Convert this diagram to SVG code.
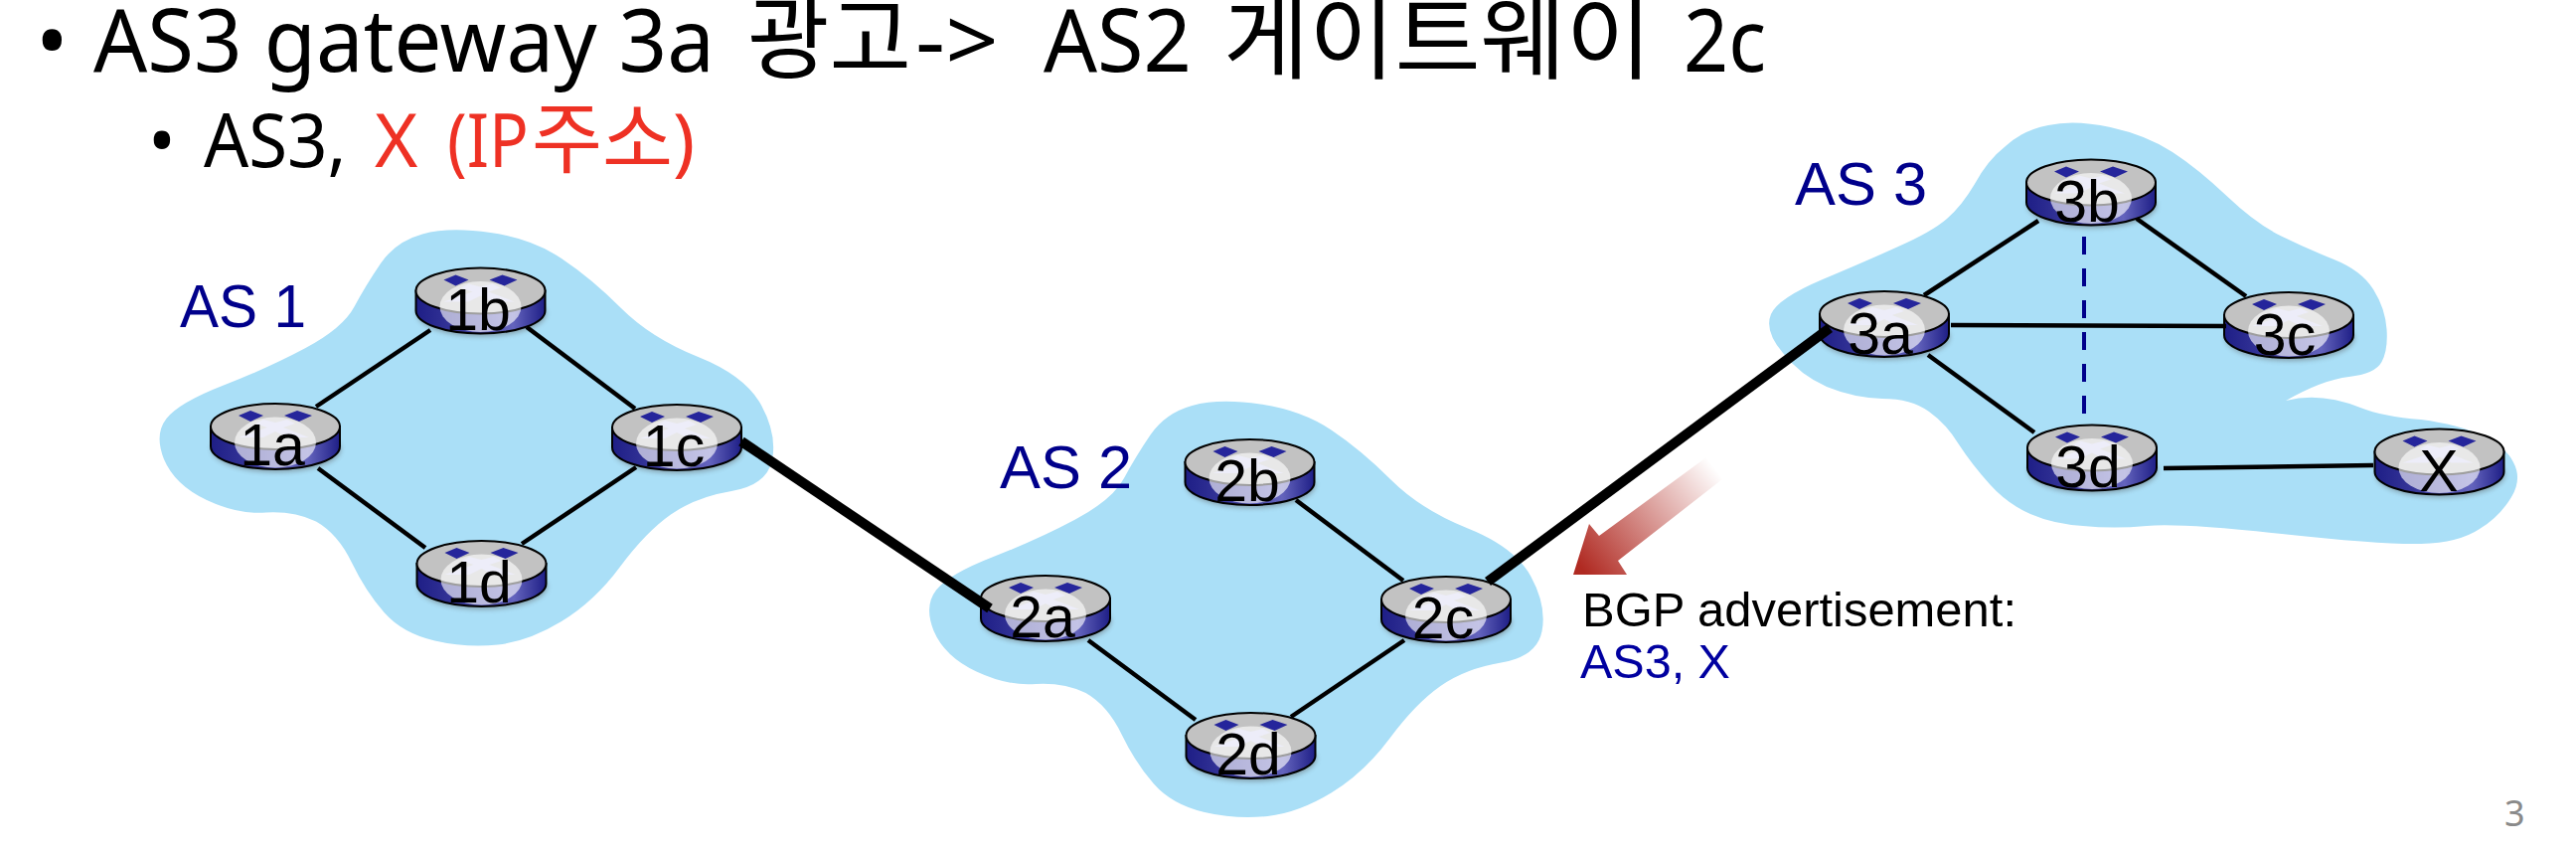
<svg xmlns="http://www.w3.org/2000/svg" width="2592" height="860" viewBox="0 0 2592 860">
<style>
text{font-family:"Liberation Sans",Arial,sans-serif}
.head{font-family:"Noto Sans","Noto Sans CJK KR",sans-serif;fill:#000}
.ko{font-family:"Noto Sans CJK KR",sans-serif}
.red{fill:#ee3124}
.cloud{fill:#aadff7}
.as{font-size:61px;fill:#00008b}
.lbl{font-size:59px;fill:#000;text-anchor:middle}
.ln{stroke:#000;stroke-width:4.5;fill:none}
.thick{stroke:#000;stroke-width:10;fill:none}
</style>
<defs>
<linearGradient id="bodyG" x1="0" x2="1" y1="0" y2="0"><stop offset="0" stop-color="#1e1e86"/><stop offset=".35" stop-color="#3a3a9c"/><stop offset=".75" stop-color="#6464bd"/><stop offset="1" stop-color="#1e1e86"/></linearGradient>
<linearGradient id="arrowG" gradientUnits="userSpaceOnUse" x1="1592" y1="572" x2="1725" y2="470"><stop offset="0" stop-color="#b02a22"/><stop offset="1" stop-color="#b02a22" stop-opacity="0"/></linearGradient>
<filter id="blur" x="-20%" y="-20%" width="140%" height="140%"><feGaussianBlur stdDeviation="2.5"/></filter>
<path id="cloud1" class="cloud" d="M425,235.5 Q452,228 493.5,234 Q535,240 565,260 Q595,280 625,310 Q655,340 702.5,359 Q750,378 766,407.5 Q782,437 777,462.5 Q772,488 736,494 Q700,500 675,517.5 Q650,535 624,570 Q598,605 565,625 Q532,645 501,648.5 Q470,652 437.5,644.5 Q405,637 386.5,616 Q368,595 354,566 Q340,537 318,524.5 Q296,514 268,515.5 Q240,518 208,503 Q176,488 165,462 Q155,437 167.5,421 Q180,405 225,387.5 Q270,370 307.5,350 Q345,330 356.5,308.5 Q368,287 383,265 Q398,243 425,235.5 Z"/>
<g id="router">
<ellipse cx="1" cy="13" rx="65" ry="23" fill="#555" opacity=".45" filter="url(#blur)"/>
<path d="M-65,-10 V10 A65,23 0 0 0 65,10 V-10 Z" fill="url(#bodyG)" stroke="#000" stroke-width="2"/>
<ellipse cx="0" cy="-10" rx="65" ry="23" fill="#c2c2c2" stroke="#000" stroke-width="2"/>
<path d="M-37,-21 L-25,-26 L-12,-21 L-25,-15 Z M9,-21 L22,-26 L37,-21 L24,-15 Z" fill="#25259b"/>
<path d="M-12,-17 L0,-14 L12,-17 L20,-13 L8,-9 L34,1 L12,1 L0,-5 L-12,1 L-37,1 L-8,-9 L-20,-13 Z" fill="#cfcfee"/>
<ellipse cx="0" cy="6" rx="41" ry="25.5" fill="#fff" opacity=".62"/>
</g>
</defs>

<text class="head" x="36" y="72" font-size="87">•</text>
<text class="head" y="72" font-size="87"><tspan x="94" textLength="647" lengthAdjust="spacingAndGlyphs">AS3 gateway 3a </tspan><tspan x="752" class="ko" font-size="92" textLength="165" lengthAdjust="spacingAndGlyphs">광고</tspan><tspan x="921" textLength="108" lengthAdjust="spacingAndGlyphs">-&gt; </tspan><tspan x="1050" textLength="171" lengthAdjust="spacingAndGlyphs">AS2 </tspan><tspan x="1231" class="ko" font-size="92" textLength="452" lengthAdjust="spacingAndGlyphs">게이트웨이 </tspan><tspan x="1694" textLength="83" lengthAdjust="spacingAndGlyphs">2c</tspan></text>
<text class="head" x="149" y="168" font-size="74">•</text>
<text class="head" y="168" font-size="74"><tspan x="205" textLength="162" lengthAdjust="spacingAndGlyphs">AS3, </tspan><tspan x="377" class="red">X </tspan><tspan x="450" class="red" textLength="82" lengthAdjust="spacingAndGlyphs">(IP</tspan><tspan x="535" class="red ko" font-size="78" textLength="142" lengthAdjust="spacingAndGlyphs">주소</tspan><tspan x="677" class="red">)</tspan></text>

<g id="clouds">
<use href="#cloud1"/>
<use href="#cloud1" transform="translate(774.5,172.5)"/>
<path class="cloud" d="M2123.5,128 Q2160,136 2186,153 Q2212,170 2241,197.5 Q2270,225 2295.5,237.5 Q2321,250 2348.5,261 Q2376,272 2388,291 Q2400,310 2401.5,331 Q2403,352 2396.5,364 Q2390,376 2363.5,379 Q2337,382 2300,403 Q2335,394 2375,410 Q2398,419 2436,422 Q2474,427 2497,438 Q2522,450 2529,465 Q2538,482 2527,500 Q2515,520 2495,532 Q2474,546 2436,547 Q2398,548 2296,537 Q2194,526 2160,529 Q2127,532 2096,529 Q2066,527 2043,517 Q2020,507 2002,487 Q1984,467 1971,447 Q1959,427 1941,414 Q1923,401 1894,401 Q1865,400 1838,389 Q1811,377 1794,355 Q1775,333 1782,316 Q1789,300 1834,281 Q1877,263 1910,248 Q1944,233 1959,220 Q1974,207 1987,185 Q2000,161 2018,147 Q2035,131 2061,126 Q2087,120 2123.5,128 Z"/>
</g>

<g id="labels">
<text class="as" x="181" y="329" textLength="127" lengthAdjust="spacingAndGlyphs">AS 1</text>
<text class="as" x="1006" y="491" textLength="133" lengthAdjust="spacingAndGlyphs">AS 2</text>
<text class="as" x="1806" y="206" textLength="133" lengthAdjust="spacingAndGlyphs">AS 3</text>
</g>

<g id="r1a"><use href="#router" x="277" y="439"/><text class="lbl" x="274" y="468">1a</text></g>
<g id="r1b"><use href="#router" x="483.5" y="302.5"/><text class="lbl" x="481" y="332">1b</text></g>
<g id="r1c"><use href="#router" x="681" y="440"/><text class="lbl" x="678" y="469">1c</text></g>
<g id="r1d"><use href="#router" x="484.5" y="577"/><text class="lbl" x="482" y="606">1d</text></g>
<g id="r2a"><use href="#router" x="1052" y="612"/><text class="lbl" x="1049" y="641">2a</text></g>
<g id="r2b"><use href="#router" x="1257.5" y="475"/><text class="lbl" x="1255" y="504">2b</text></g>
<g id="r2c"><use href="#router" x="1455" y="613"/><text class="lbl" x="1452" y="642">2c</text></g>
<g id="r2d"><use href="#router" x="1258.5" y="750"/><text class="lbl" x="1256" y="779">2d</text></g>
<g id="r3a"><use href="#router" x="1896" y="326"/><text class="lbl" x="1892" y="356">3a</text></g>
<g id="r3b"><use href="#router" x="2104" y="193.5"/><text class="lbl" x="2100" y="223">3b</text></g>
<g id="r3c"><use href="#router" x="2303" y="327"/><text class="lbl" x="2299" y="357">3c</text></g>
<g id="r3d"><use href="#router" x="2105" y="460.5"/><text class="lbl" x="2101" y="490">3d</text></g>
<g id="rX"><use href="#router" x="2454.5" y="464.5"/><text class="lbl" x="2454" y="494">X</text></g>

<g id="connectors">
<path class="ln" d="M318,409 L433,332"/>
<path class="ln" d="M530,329 L639,411"/>
<path class="ln" d="M320,471 L428,551"/>
<path class="ln" d="M640,470 L525,547"/>
<path class="thick" d="M746,444 L996,612"/>
<path class="ln" d="M1304,503 L1412,584"/>
<path class="ln" d="M1095,644 L1203,724"/>
<path class="ln" d="M1413,644 L1299,721"/>
<path class="thick" d="M1497,585 L1841,330"/>
<path class="ln" d="M1936,297 L2051,222"/>
<path class="ln" d="M2150,220 L2260,298"/>
<path class="ln" d="M1963,327 L2240,328"/>
<path class="ln" d="M1940,357 L2047,435"/>
<path class="ln" d="M2177,471 L2388,468"/>
<path d="M2097,238 V417" stroke="#00008b" stroke-width="4" stroke-dasharray="18 14" fill="none"/>
</g>

<g id="bgp">
<polygon points="1583,578 1599,527 1609,539 1717,460 1733,482 1628,564 1637,578" fill="url(#arrowG)"/>
<text x="1592" y="630" font-size="48.5" fill="#000" textLength="437" lengthAdjust="spacingAndGlyphs">BGP advertisement:</text>
<text x="1590" y="682" font-size="48.5" fill="#0000a0">AS3, X</text>
</g>
<text x="2520" y="831" font-size="36" style="font-family:'Noto Sans',sans-serif" fill="#8a8a8a">3</text>
</svg>
